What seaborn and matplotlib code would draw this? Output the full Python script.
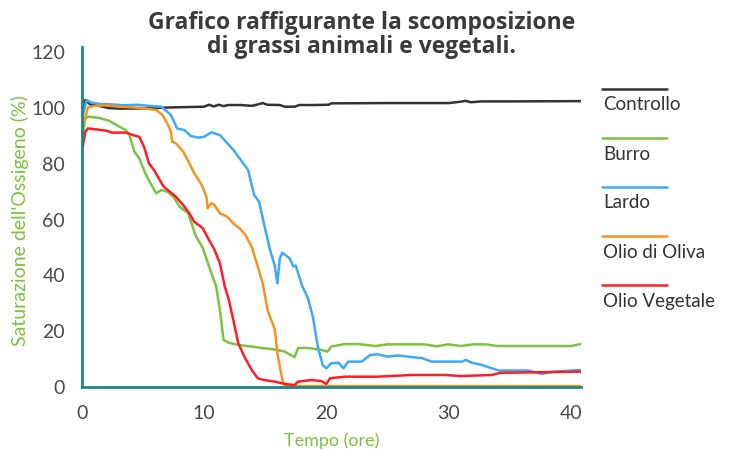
import matplotlib
matplotlib.use("Agg")
import matplotlib.pyplot as plt
from matplotlib.lines import Line2D
import seaborn as sns
import pandas as pd

# ---- data ----
series_names = ["Controllo", "Burro", "Lardo", "Olio di Oliva", "Olio Vegetale"]

t_controllo = [0, 0.3, 0.7, 1.2, 1.7, 2.2, 3.3, 5, 6, 7, 8, 9, 10, 10.4, 10.8, 11.2, 11.6, 12, 13,
               13.9, 14.3, 14.8, 15.2, 16.2, 16.6, 17.4, 17.8, 19, 20.2, 20.4, 25, 30, 31, 31.4,
               31.8, 32.7, 33.2, 35, 40.8]
v_controllo = [98, 102.9, 101.3, 101, 100.5, 100, 99.8, 99.9, 100, 100.2, 100.3, 100.4, 100.5,
               101.2, 100.6, 101.2, 100.7, 101.1, 101.1, 100.8, 101.2, 101.8, 101.2, 101.1, 100.5,
               100.5, 101.1, 101.1, 101.2, 101.7, 101.8, 101.8, 102.3, 102.6, 102.1, 102.4, 102.4,
               102.4, 102.5]

t_burro = [0, 0.3, 0.6, 1.4, 2.2, 3.1, 3.6, 3.9, 4.3, 4.7, 5.2, 5.7, 6.1, 6.5, 7.0, 7.5, 8.0, 8.7,
           9.3, 9.9, 10.6, 11.0, 11.3, 11.6, 12.0, 12.8, 13.9, 14.7, 15.7, 16.6, 17.4, 17.7, 18.5,
           19.6, 20.1, 20.4, 21.5, 22.6, 24, 25, 26.5, 28, 29, 30, 31, 32, 33, 34, 36, 38, 40, 40.8]
v_burro = [88, 96.5, 96.9, 96.5, 95.5, 93.3, 92.1, 90.3, 84.4, 82, 76.6, 72.4, 69.4, 70.6, 70,
           68.2, 64.6, 62.3, 54.4, 49.8, 40.8, 35.9, 27.5, 16.8, 15.8, 15, 14.4, 13.9, 13.4, 12.6,
           10.6, 13.9, 13.9, 13.2, 12.6, 14.4, 15.3, 15.3, 14.6, 15.2, 15.2, 15.2, 14.5, 15.2,
           14.6, 15.2, 15.2, 14.6, 14.6, 14.6, 14.6, 15.3]

t_lardo = [0, 0.4, 0.8, 1.5, 2.5, 3.5, 4.5, 5.5, 6.5, 7.3, 7.8, 8.4, 8.9, 9.5, 10, 10.6, 11.3,
           11.8, 12.4, 13, 13.6, 14.1, 14.5, 14.9, 15.4, 15.8, 16.0, 16.2, 16.4, 17.0, 17.3, 17.5,
           18, 18.5, 18.9, 19.3, 19.7, 20, 20.4, 21, 21.4, 21.8, 22.9, 23.6, 24.2, 25, 25.9, 27,
           27.8, 28.6, 31.1, 31.4, 31.9, 32.7, 34.1, 36.5, 37.6, 38.7, 40.8]
v_lardo = [96, 102.8, 102, 101.5, 101.3, 101, 101.2, 100.8, 100.5, 97.5, 92.7, 92.1, 90, 89.4,
           89.7, 91.3, 90.3, 87.9, 85, 81.4, 77.8, 68.8, 66.4, 58.6, 49.1, 43.1, 37.1, 46.1, 48.1,
           46.1, 43.1, 43.5, 36.5, 31.7, 25.1, 14.4, 7.8, 6.6, 8.4, 8.6, 6.6, 9, 9, 11.4, 11.6,
           10.8, 11.2, 10.6, 10.3, 9, 9, 9.6, 8.6, 7.8, 5.8, 5.8, 4.6, 5.4, 6]

t_oliva = [0, 0.5, 1, 2, 3, 4, 5, 6.1, 6.6, 7.0, 7.3, 7.4, 7.7, 8.3, 8.8, 9.2, 9.8, 10.2, 10.3,
           10.6, 10.8, 11.3, 11.9, 12.4, 12.9, 13.4, 13.9, 14.4, 14.8, 15.2, 15.8, 16.0, 16.3,
           16.5, 17, 40.8]
v_oliva = [91, 100.2, 100.8, 101, 100.5, 100.3, 100, 99.3, 97.5, 94.5, 91.5, 87.9, 87.4, 84.4,
           80.2, 76.6, 72.5, 68.2, 64, 65.8, 65.5, 62.2, 61, 58.6, 56.9, 54.4, 50.2, 43.1, 37.1,
           27.5, 20.3, 12, 4.8, 0.8, 0.2, 0.2]

t_vegetale = [0, 0.3, 0.5, 1.1, 2.0, 2.5, 3.6, 4.2, 4.7, 5.1, 5.5, 5.9, 6.3, 6.7, 7.2, 7.7, 8.3,
              8.8, 9.2, 9.9, 10.4, 10.8, 11.3, 11.7, 12.0, 12.4, 12.8, 13.3, 13.9, 14.4, 14.9,
              15.8, 16.6, 17.4, 17.7, 18.8, 19.6, 20, 20.3, 21.5, 24.2, 27, 29.7, 31, 33.5, 34.3,
              40.8]
v_vegetale = [84, 91.5, 92.7, 92.4, 91.9, 91.2, 91.2, 90.3, 89.7, 86.1, 80.2, 77.8, 74.8, 71.8,
              70, 68.2, 65.2, 62.2, 59.2, 56.9, 52.7, 49.7, 44.3, 35.9, 31.7, 23.9, 15.6, 10.8, 6,
              3, 2.4, 1.8, 1, 0.6, 1.8, 2.4, 2, 1, 3, 3.6, 3.6, 4.2, 4.2, 3.8, 4.2, 5, 5.4]

x_ticks = [0, 10, 20, 30, 40]
y_ticks = [0, 20, 40, 60, 80, 100, 120]

colors = ["#333333", "#7cc242", "#3fa9f5", "#f7931e", "#ff1d25"]

# ---- build long table ----
frames = []
for name, t, v in zip(series_names,
                      [t_controllo, t_burro, t_lardo, t_oliva, t_vegetale],
                      [v_controllo, v_burro, v_lardo, v_oliva, v_vegetale]):
    frames.append(pd.DataFrame({"t": t, "v": v, "serie": name}))
df = pd.concat(frames, ignore_index=True)

sns.set_style("white")
plt.rcParams["font.family"] = ["Lato", "DejaVu Sans"]

fig = plt.figure(figsize=(7.34, 4.5), dpi=100)
ax = fig.add_axes([0.1113, 0.1407, 0.6807, 0.7553])

sns.lineplot(data=df, x="t", y="v", hue="serie", hue_order=series_names,
             palette=dict(zip(series_names, colors)), linewidth=1.8,
             legend=False, ax=ax, estimator=None, sort=True)

teal = "#1b8784"
ax.set_xlim(0, 40.85)
ax.set_ylim(0, 122)
ax.set_xticks(x_ticks)
ax.set_yticks(y_ticks)
for s in ["top", "right"]:
    ax.spines[s].set_visible(False)
for s in ["left", "bottom"]:
    ax.spines[s].set_color(teal)
    ax.spines[s].set_linewidth(2.0)
ax.tick_params(axis="both", colors=teal, width=2.0, length=8, labelsize=14,
               labelcolor="#4a4a4a", pad=5)
ax.tick_params(axis="y", length=9, pad=3)

ax.set_xlabel("Tempo (ore)", color="#7cc242", fontsize=13, labelpad=8)
ax.set_ylabel("Saturazione dell'Ossigeno (%)", color="#7cc242", fontsize=14)
ax.yaxis.set_label_coords(-0.106, 0.49)

fig.text(0.493, 0.922, "Grafico raffigurante la scomposizione\ndi grassi animali e vegetali.",
         ha="center", va="center", fontsize=16.5, fontweight="bold", color="#3a3a3a",
         linespacing=1.0, family=["Open Sans", "DejaVu Sans"])

# legend: line above label
W, H = 734, 450
line_y = [89, 138, 187, 236, 285]
for name, c, ly in zip(series_names, colors, line_y):
    fig.add_artist(Line2D([602 / W, 667 / W], [1 - ly / H, 1 - ly / H], color=c,
                          linewidth=1.8, transform=fig.transFigure))
    fig.text(603 / W, 1 - (ly + 16) / H, name, ha="left", va="center", fontsize=13.5,
             color="#333333")

fig.savefig("out.png", dpi=100)
